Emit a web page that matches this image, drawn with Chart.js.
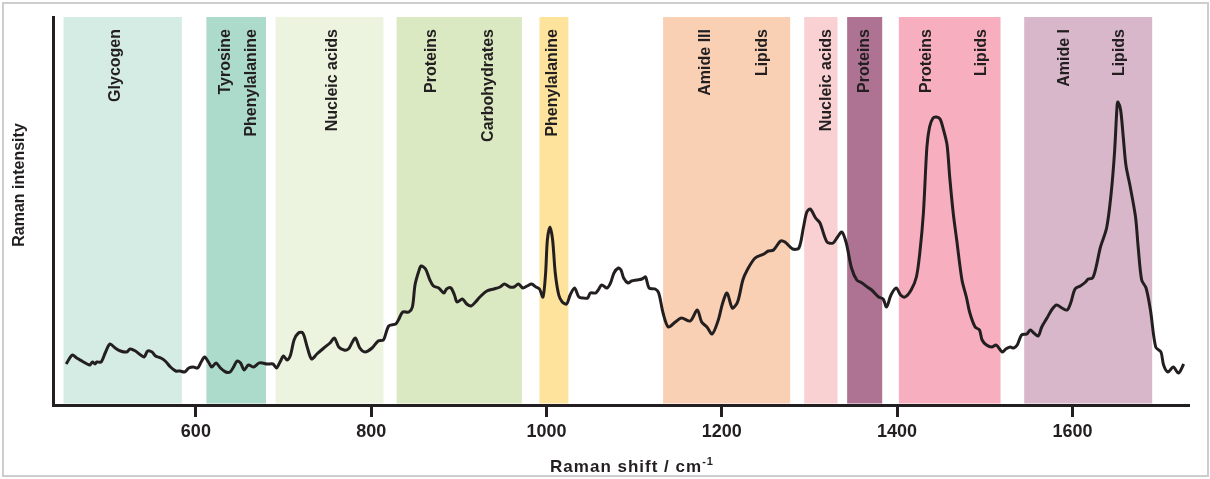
<!DOCTYPE html>
<html>
<head>
<meta charset="utf-8">
<script src="https://cdn.jsdelivr.net/npm/chart.js@4/dist/chart.umd.min.js"></script>
<style>
  html, body { margin: 0; padding: 0; background: #fff; }
  #wrap { width: 1210px; height: 479px; }
</style>
</head>
<body>
<div id="wrap"><canvas id="raman" width="1210" height="479"></canvas></div>
<script>
// Raman shift (cm-1) and intensity (arbitrary units)
const wavenumbers = [
  452, 459, 464, 470, 476, 479, 482, 485, 487, 492, 497, 502, 508, 514, 521, 525, 531, 537, 541, 545,
  550, 554, 560, 565, 571, 577, 582, 587, 592, 597, 602, 606, 610, 615, 618, 623, 628, 634, 639, 643,
  647, 651, 655, 660, 666, 672, 676, 681, 688, 692, 696, 700, 704, 708, 712, 717, 722, 727, 732, 738,
  746, 753, 758, 763, 769, 774, 778, 782, 787, 793, 801, 808, 814, 820, 828, 831, 836, 843, 847, 850,
  854, 857, 862, 867, 871, 877, 883, 886, 891, 895, 898, 904, 909, 914, 919, 924, 932, 940, 947, 952,
  958, 963, 968, 973, 978, 983, 988, 992, 996, 999, 1001, 1004, 1007, 1010, 1014, 1018, 1023, 1027, 1032, 1037,
  1042, 1047, 1050, 1056, 1059, 1063, 1069, 1073, 1077, 1082, 1085, 1088, 1093, 1097, 1103, 1109, 1113, 1117, 1124, 1128,
  1133, 1139, 1147, 1154, 1164, 1172, 1177, 1183, 1189, 1196, 1201, 1206, 1212, 1218, 1224, 1229, 1238, 1248, 1253, 1259,
  1267, 1272, 1281, 1288, 1293, 1297, 1301, 1307, 1312, 1320, 1327, 1332, 1337, 1342, 1348, 1354, 1360, 1366, 1371, 1379,
  1384, 1388, 1393, 1399, 1404, 1409, 1416, 1422, 1426, 1430, 1434, 1437, 1441, 1445, 1449, 1453, 1457, 1460, 1464, 1468,
  1474, 1479, 1483, 1489, 1494, 1497, 1502, 1508, 1513, 1520, 1524, 1529, 1533, 1537, 1542, 1548, 1552, 1556, 1561, 1565,
  1571, 1577, 1582, 1588, 1594, 1598, 1603, 1609, 1615, 1618, 1623, 1627, 1632, 1639, 1644, 1648, 1651, 1652, 1655, 1658,
  1661, 1666, 1672, 1675, 1679, 1684, 1689, 1695, 1701, 1704, 1709, 1715, 1721, 1727
];
const intensity = [
  41, 50, 47, 44, 41, 40, 43, 41, 43, 43, 53, 61, 57, 54, 53, 56, 54, 50, 48, 54,
  53, 49, 47, 44, 38, 34, 34, 33, 37, 38, 37, 43, 48, 42, 38, 42, 37, 33, 33, 38,
  44, 42, 35, 40, 38, 42, 42, 41, 41, 37, 43, 49, 45, 50, 65, 72, 72, 58, 46, 51,
  57, 62, 67, 58, 55, 56, 62, 67, 57, 53, 57, 64, 65, 79, 81, 85, 93, 93, 98, 120,
  133, 139, 136, 125, 119, 117, 112, 116, 117, 110, 103, 106, 101, 99, 103, 108, 114, 116, 118, 121,
  118, 118, 121, 117, 119, 121, 118, 116, 108, 132, 165, 178, 165, 132, 110, 103, 101, 110, 117, 108,
  107, 107, 112, 112, 115, 120, 117, 122, 132, 137, 135, 127, 122, 124, 125, 126, 128, 117, 116, 112,
  92, 78, 83, 87, 84, 95, 83, 78, 71, 85, 102, 112, 97, 103, 125, 135, 147, 151, 154, 155,
  164, 163, 156, 157, 177, 193, 196, 187, 182, 163, 162, 168, 173, 162, 137, 125, 122, 118, 115, 108,
  106, 98, 110, 117, 110, 108, 115, 128, 153, 192, 258, 278, 287, 288, 286, 275, 260, 228, 192, 165,
  125, 108, 92, 78, 75, 65, 60, 58, 60, 53, 56, 58, 57, 60, 70, 71, 75, 72, 69, 78,
  87, 96, 100, 97, 95, 102, 116, 119, 123, 126, 127, 138, 158, 177, 210, 252, 300, 303, 295, 268,
  240, 218, 188, 158, 125, 117, 95, 58, 53, 40, 33, 38, 32, 41
];

const xTicks = [600, 800, 1000, 1200, 1400, 1600];

// assignment bands: start / end in cm-1, label text and where each label sits
const bandStart = [449, 612, 691, 829, 992, 1133, 1294, 1343, 1402, 1545];
const bandEnd = [584, 680, 814, 972, 1025, 1278, 1332, 1383, 1518, 1691];
const bandLabels = [
  ["Glycogen"],
  ["Tyrosine", "Phenylalanine"],
  ["Nucleic acids"],
  ["Proteins", "Carbohydrates"],
  ["Phenylalanine"],
  ["Amide III", "Lipids"],
  ["Nucleic acids"],
  ["Proteins"],
  ["Proteins", "Lipids"],
  ["Amide I", "Lipids"]
];
const labelAt = [
  [508], [634, 664], [756], [869, 934], [1007],
  [1182, 1247], [1319], [1363], [1434, 1496], [1591, 1654]
];
const bandColors = [
  "#d5ece4", "#acdacb", "#ecf4e0", "#dbe9c3", "#fde39c",
  "#fad0b5", "#fad1d3", "#ae7292", "#f7afbf", "#d7b7c9"
];

const ink = "#231f20";

const decor = {
  id: "decor",
  beforeDraw(chart) {
    const { ctx, chartArea: area, scales: { x } } = chart;
    ctx.save();
    // light frame round the figure
    ctx.strokeStyle = "#cdcdcd";
    ctx.lineWidth = 2;
    ctx.strokeRect(3, 3, 1205, 473);

    bandStart.forEach((s, i) => {
      const x0 = x.getPixelForValue(s);
      const x1 = x.getPixelForValue(bandEnd[i]);
      ctx.fillStyle = bandColors[i];
      ctx.fillRect(x0, area.top, x1 - x0, area.bottom - area.top - 1.5);
    });

    ctx.fillStyle = ink;
    ctx.font = "bold 16px 'Liberation Sans', Arial, sans-serif";
    ctx.textAlign = "right";
    ctx.textBaseline = "middle";
    bandLabels.forEach((labels, i) => {
      labels.forEach((txt, j) => {
        ctx.save();
        ctx.translate(x.getPixelForValue(labelAt[i][j]), area.top + 12);
        ctx.rotate(-Math.PI / 2);
        ctx.fillText(txt, 0, 0);
        ctx.restore();
      });
    });
    ctx.restore();
  },
  afterDraw(chart) {
    const { ctx } = chart;
    ctx.save();
    ctx.fillStyle = ink;

    // y title
    ctx.font = "bold 16px 'Liberation Sans', Arial, sans-serif";
    ctx.textAlign = "center";
    ctx.textBaseline = "middle";
    ctx.save();
    ctx.translate(20, 185);
    ctx.rotate(-Math.PI / 2);
    ctx.fillText("Raman intensity", 0, 0);
    ctx.restore();

    // x title with superscript
    ctx.textAlign = "left";
    ctx.textBaseline = "alphabetic";
    ctx.letterSpacing = "1px";
    ctx.font = "bold 17px 'Liberation Sans', Arial, sans-serif";
    const main = "Raman shift / cm";
    const w1 = ctx.measureText(main).width;
    ctx.font = "bold 11px 'Liberation Sans', Arial, sans-serif";
    const w2 = ctx.measureText("-1").width;
    const start = 632 - (w1 + w2) / 2;
    ctx.font = "bold 17px 'Liberation Sans', Arial, sans-serif";
    ctx.fillText(main, start, 472);
    ctx.font = "bold 11px 'Liberation Sans', Arial, sans-serif";
    ctx.fillText("-1", start + w1, 465);
    ctx.restore();
  }
};

new Chart(document.getElementById("raman"), {
  type: "line",
  data: {
    datasets: [{
      label: "Raman spectrum",
      data: wavenumbers.map((w, i) => ({ x: w, y: intensity[i] })),
      borderColor: ink,
      borderWidth: 3,
      pointRadius: 0,
      tension: 0.3,
      fill: false
    }]
  },
  options: {
    responsive: false,
    animation: false,
    devicePixelRatio: 1,
    layout: { padding: { left: 0, right: 21, top: 17, bottom: 0 } },
    plugins: { legend: { display: false }, tooltip: { enabled: false } },
    scales: {
      x: {
        type: "linear",
        min: 437,
        max: 1733,
        afterBuildTicks: (scale) => { scale.ticks = xTicks.map((v) => ({ value: v })); },
        afterFit: (scale) => { scale.height = 74; },
        ticks: {
          color: ink,
          padding: 4,
          callback: (v) => String(v),
          font: { family: "'Liberation Sans', Arial, sans-serif", size: 18, weight: "bold" }
        },
        grid: { drawOnChartArea: false, tickLength: 12, tickWidth: 3, tickColor: ink },
        border: { display: true, width: 3, color: ink }
      },
      y: {
        min: 0,
        max: 388,
        afterFit: (scale) => { scale.width = 53; },
        ticks: { display: false },
        grid: { drawOnChartArea: false, drawTicks: false },
        border: { display: true, width: 3, color: ink }
      }
    }
  },
  plugins: [decor]
});
</script>
</body>
</html>
